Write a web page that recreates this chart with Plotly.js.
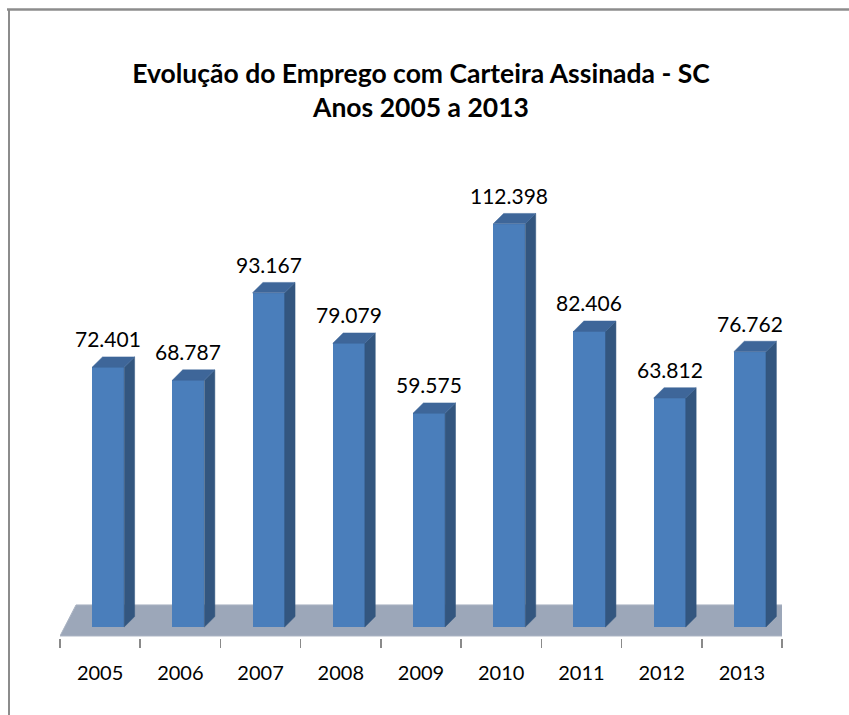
<!DOCTYPE html>
<html>
<head>
<meta charset="utf-8">
<script src="https://cdn.plot.ly/plotly-3.0.1.min.js"></script>
<style>
  html, body { margin: 0; padding: 0; background: #ffffff; }
  #chart { width: 849px; height: 715px; }
</style>
</head>
<body>
<div id="chart"></div>
<script>
// ---- data ----
const years = ['2005', '2006', '2007', '2008', '2009', '2010', '2011', '2012', '2013'];
const values = [72401, 68787, 93167, 79079, 59575, 112398, 82406, 63812, 76762];
const labels = ['72.401', '68.787', '93.167', '79.079', '59.575', '112.398', '82.406', '63.812', '76.762'];

// ---- 3D look geometry (in axis units) ----
const FONT = 'Lato, "Open Sans", sans-serif';
const idx = years.map((_, i) => i);
const frontShift = 0.1, halfW = 0.2;   // front face centre offset & half width
const dx = 0.13, dy = 2900;            // depth offset (x units, y value units)

// side faces and top faces as polygons built from the data
const sideX = [], sideY = [], topX = [], topY = [];
idx.forEach(i => {
  const v = values[i];
  const xl = i + frontShift - halfW, xr = i + frontShift + halfW;
  sideX.push(xr, xr, xr + dx, xr + dx, xr, null);
  sideY.push(0, v, v + dy, dy, 0, null);
  topX.push(xl, xr, xr + dx, xl + dx, xl, null);
  topY.push(v, v, v + dy, v + dy, v, null);
});

const traces = [
  {
    type: 'bar', x: idx.map(i => i + frontShift), y: values, width: 2 * halfW,
    marker: {color: '#4a7ebb', line: {width: 0}},
    hoverinfo: 'skip', showlegend: false
  },
  {
    type: 'scatter', x: sideX, y: sideY, mode: 'lines', fill: 'toself',
    fillcolor: '#33567f', line: {color: '#33567f', width: 0.5},
    hoverinfo: 'skip', showlegend: false
  },
  {
    type: 'scatter', x: topX, y: topY, mode: 'lines', fill: 'toself',
    fillcolor: '#3e6699', line: {color: '#3e6699', width: 0.5},
    hoverinfo: 'skip', showlegend: false
  }
];

const annotations = idx.map(i => ({
  x: i + frontShift, y: values[i], xref: 'x', yref: 'y',
  text: labels[i], showarrow: false, yanchor: 'bottom', yshift: 14,
  font: {family: FONT, size: 21, color: '#000000'}
}));

// chart frame (paper coordinates)
const L = 60, R = 67, T = 150, B = 77, W = 849, H = 715;
const pw = W - L - R, ph = H - T - B;
const px = p => (p - L) / pw;
const py = p => (H - B - p) / ph;

const layout = {
  width: W, height: H,
  margin: {l: L, r: R, t: T, b: B, pad: 0},
  paper_bgcolor: '#ffffff', plot_bgcolor: 'rgba(0,0,0,0)',
  title: {
    text: '<b>Evolução do Emprego com Carteira Assinada - SC</b><br><b>Anos 2005 a 2013</b>',
    font: {family: FONT, size: 26.5, color: '#000000'},
    x: 0.5, xref: 'paper', xanchor: 'center',
    y: 1 - 83 / H, yref: 'container', yanchor: 'top'
  },
  xaxis: {
    range: [-0.5, 8.5], fixedrange: true,
    tickmode: 'array', tickvals: idx, ticktext: years,
    ticks: '', showgrid: false, zeroline: false, showline: false,
    tickfont: {family: FONT, size: 20, color: '#000000'},
    ticklabelstandoff: 21,
    minor: {tickmode: 'array', tickvals: idx.map(i => i - 0.5).concat([8.5]),
            ticks: 'outside', ticklen: 9, tickcolor: '#8a8a8a', tickwidth: 1.5, showgrid: false}
  },
  yaxis: {
    range: [-3067, 132980], fixedrange: true,
    visible: false, showgrid: false, zeroline: false
  },
  bargap: 0,
  annotations: annotations,
  shapes: [
    // floor of the 3D plot, drawn under the bars
    {type: 'path', xref: 'x', yref: 'y', layer: 'below',
     path: 'M -0.5,-2500 L 8.5,-2500 L 8.85,6150 L -0.3,6150 Z',
     fillcolor: '#9ca7b9', line: {color: '#aab3c2', width: 1}},
    // chart border
    {type: 'line', xref: 'paper', yref: 'paper', x0: px(7), x1: px(852), y0: py(9.5), y1: py(9.5),
     line: {color: '#8c8c8c', width: 2.5}},
    {type: 'line', xref: 'paper', yref: 'paper', x0: px(9), x1: px(9), y0: py(9), y1: py(720),
     line: {color: '#8c8c8c', width: 2}}
  ]
};

Plotly.newPlot('chart', traces, layout, {displayModeBar: false, staticPlot: true});
</script>
</body>
</html>
